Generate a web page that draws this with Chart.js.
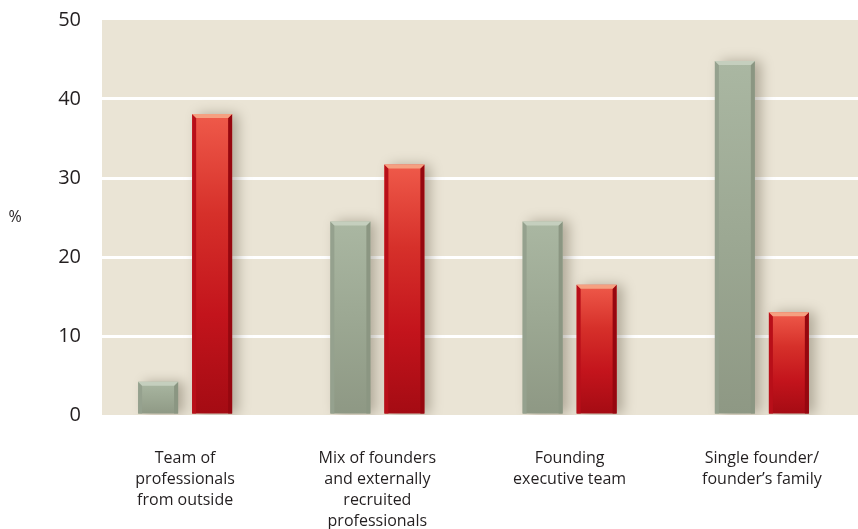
<!DOCTYPE html>
<html>
<head>
<meta charset="utf-8">
<script src="https://cdn.jsdelivr.net/npm/chart.js@4/dist/chart.umd.min.js"></script>
<style>
  html, body { margin: 0; padding: 0; background: #fff; }
  #wrap { width: 858px; height: 529px; }
</style>
</head>
<body>
<div id="wrap"><canvas id="chart" width="858" height="529"></canvas></div>
<script>
// data
const categories = [
  ["Team of", "professionals", "from outside"],
  ["Mix of founders", "and externally", "recruited", "professionals"],
  ["Founding", "executive team"],
  ["Single founder/", "founder\u2019s family"],
];
const greyValues = [4.2, 24.5, 24.5, 44.8];
const redValues = [38.1, 31.7, 16.5, 13.0];
const yTicks = [0, 10, 20, 30, 40, 50];

const FONT = "'Open Sans', 'Noto Sans', sans-serif";
const BEIGE = "#eae4d5";

// per-bar vertical gradient, top light -> bottom dark
function barGradient(stops) {
  return (c) => {
    const chart = c.chart;
    const ys = chart.scales.y;
    if (!ys || !c.parsed) return stops[1];
    const top = ys.getPixelForValue(c.parsed.y);
    const bot = ys.getPixelForValue(0);
    if (!isFinite(top) || !isFinite(bot) || top === bot) return stops[1];
    const g = chart.ctx.createLinearGradient(0, top, 0, bot);
    stops.forEach((s, i) => g.addColorStop(i / (stops.length - 1), s));
    return g;
  };
}

const bgPlugin = {
  id: "bg",
  beforeDraw(chart) {
    const { ctx, chartArea: a } = chart;
    ctx.save();
    ctx.fillStyle = BEIGE;
    ctx.fillRect(a.left + 13, a.top, a.right - a.left - 13, a.bottom - a.top);
    ctx.restore();
  },
  afterDraw(chart) {
    const { ctx, chartArea: a } = chart;
    ctx.save();
    ctx.fillStyle = "#231f20";
    ctx.font = "16px " + FONT;
    ctx.textAlign = "center";
    ctx.textBaseline = "middle";
    ctx.fillText("%", 15, (a.top + a.bottom) / 2);
    ctx.restore();
  },
};

// soft shadow to the right of each bar
const shadowPlugin = {
  id: "shadow",
  beforeDatasetDraw(chart) {
    const ctx = chart.ctx;
    ctx.save();
    ctx.shadowColor = "rgba(70,60,40,0.35)";
    ctx.shadowBlur = 12;
    ctx.shadowOffsetX = 6;
    ctx.shadowOffsetY = 0;
  },
  afterDatasetDraw(chart) {
    chart.ctx.restore();
  },
};

// bevel: darker side strips + lighter cap
const bevelPlugin = {
  id: "bevel",
  afterDatasetsDraw(chart) {
    const ctx = chart.ctx;
    const looks = [
      { left: "#95a18e", right: "#8b9682", cap: "#c5cfbe" },
      { left: "#b80f19", right: "#96070f", cap: "#f5a081" },
    ];
    chart.data.datasets.forEach((ds, di) => {
      const meta = chart.getDatasetMeta(di);
      const lk = looks[di];
      meta.data.forEach((bar) => {
        const { x, y, base, width } = bar.getProps(["x", "y", "base", "width"], true);
        const l = x - width / 2, r = x + width / 2, e = 4;
        ctx.save();
        ctx.fillStyle = lk.left;
        ctx.beginPath();
        ctx.moveTo(l, y); ctx.lineTo(l + e, y + e); ctx.lineTo(l + e, base); ctx.lineTo(l, base);
        ctx.closePath(); ctx.fill();
        ctx.fillStyle = lk.right;
        ctx.beginPath();
        ctx.moveTo(r, y); ctx.lineTo(r - e, y + e); ctx.lineTo(r - e, base); ctx.lineTo(r, base);
        ctx.closePath(); ctx.fill();
        ctx.fillStyle = lk.cap;
        ctx.beginPath();
        ctx.moveTo(l, y); ctx.lineTo(r, y); ctx.lineTo(r - e, y + e); ctx.lineTo(l + e, y + e);
        ctx.closePath(); ctx.fill();
        ctx.restore();
      });
    });
  },
};

new Chart(document.getElementById("chart"), {
  type: "bar",
  data: {
    labels: categories,
    datasets: [
      {
        label: "Grey",
        data: greyValues,
        backgroundColor: barGradient(["#aab7a2", "#9ca893", "#8e9884"]),
        borderWidth: 0,
        barPercentage: 0.74,
        categoryPercentage: 0.562,
      },
      {
        label: "Red",
        data: redValues,
        backgroundColor: barGradient(["#ef5a4a", "#d6302a", "#c3141c", "#a40b13"]),
        borderWidth: 0,
        barPercentage: 0.74,
        categoryPercentage: 0.562,
      },
    ],
  },
  options: {
    responsive: false,
    animation: false,
    layout: { padding: { top: 20, right: 0, left: 0, bottom: 0 } },
    plugins: { legend: { display: false }, tooltip: { enabled: false } },
    scales: {
      x: {
        grid: { display: false },
        border: { display: false },
        ticks: {
          color: "#231f20",
          font: { family: FONT, size: 16, lineHeight: 1.32 },
          padding: 25,
          maxRotation: 0,
          autoSkip: false,
        },
        afterFit(s) { s.height = 114; },
      },
      y: {
        min: 0,
        max: 50,
        afterBuildTicks(s) { s.ticks = yTicks.map((v) => ({ value: v })); },
        grid: {
          color: (c) => (c.tick && (c.tick.value === 0 || c.tick.value === 50) ? "rgba(0,0,0,0)" : "#ffffff"),
          lineWidth: 3,
          drawTicks: false,
        },
        border: { display: false },
        ticks: {
          color: "#231f20",
          font: { family: FONT, size: 20 },
          padding: 8,
        },
        afterFit(s) { s.width = 89; },
      },
    },
  },
  plugins: [bgPlugin, shadowPlugin, bevelPlugin],
});
</script>
</body>
</html>
